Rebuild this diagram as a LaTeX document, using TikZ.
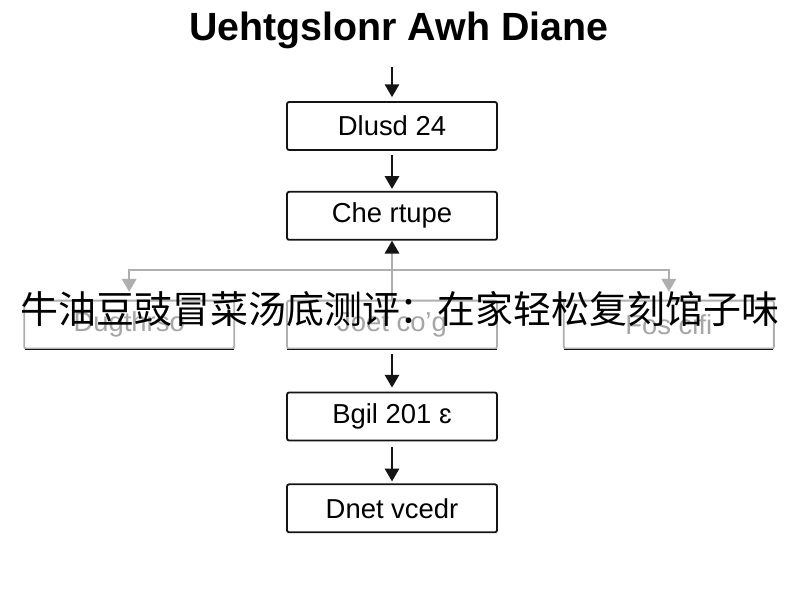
\documentclass[tikz,border=0pt]{standalone}
\usepackage{fontspec}
\setmainfont{Liberation Sans}
\newfontfamily\cjk{Noto Sans CJK SC}
\usepackage{tikz}
\usetikzlibrary{arrows.meta,positioning}
\definecolor{boxline}{RGB}{20,20,20}
\definecolor{faded}{RGB}{175,175,175}
\definecolor{fadedtext}{RGB}{165,165,165}

\begin{document}
\begin{tikzpicture}[
  font=\fontsize{19.5}{23}\selectfont,
  box/.style={draw=boxline,line width=1.3pt,rounded corners=1.5pt,minimum height=1.2cm,minimum width=5.25cm,inner sep=0pt,align=center},
  gbox/.style={draw=faded,line width=1.3pt,rounded corners=1.5pt,minimum height=1.2cm,minimum width=5.25cm,inner sep=0pt,text=fadedtext,align=center},
  arr/.style={-{Triangle[length=3.2mm,width=3.6mm]},line width=1.3pt,boxline},
  garr/.style={-{Triangle[length=3.2mm,width=3.6mm]},line width=1.3pt,faded},
]
\useasboundingbox (0,0) rectangle (20,-15);
\fill[white] (0,0) rectangle (20,-15);
\node[font=\fontsize{28}{32}\selectfont\bfseries] (ttl) at (9.97,-0.75) {Uehtgslonr Awh Diane};
\node[box] (dlusd) at (9.8,-3.15) {Dlusd 24};
\node[box,below=1.0cm of dlusd] (che) {Che rtupe};
\node[gbox,below=1.475cm of che] (joet) {Joet co'g};
\node[gbox,left=1.275cm of joet] (dugt) {Dugthrso};
\node[gbox,right=1.625cm of joet] (fos) {Fos cifi};
\node[box,below=1.05cm of joet] (bgil) {Bgil 201 ɛ};
\node[box,below=1.05cm of bgil] (dnet) {Dnet vcedr};
% darker bottom edges of the faded row
\foreach \n in {dugt,joet,fos}
  \draw[boxline,line width=1.3pt] ([xshift=1pt]\n.south west) -- ([xshift=-1pt]\n.south east);
% main flow
\coordinate[above=0.85cm of dlusd.north] (entry);
\draw[arr,shorten >=0.1cm] (entry) -- (dlusd.north);
\draw[arr,shorten <=0.1cm,shorten >=0.05cm] (dlusd) -- (che);
\draw[arr,shorten <=0.1cm,shorten >=0.1cm] (joet) -- (bgil);
\draw[arr,shorten <=0.15cm,shorten >=0.05cm] (bgil) -- (dnet);
% faded branch
\coordinate[above=0.75cm of joet.north] (bar);
\draw[faded,line width=1.3pt,-{Triangle[length=3.2mm,width=3.6mm,boxline]}] (joet.north) -- (che.south);
\draw[garr,shorten >=0.2cm] (bar) -| (dugt.north);
\draw[garr,shorten >=0.2cm] (bar) -| (fos.north);
% caption over the picture
\node[font=\cjk\fontsize{27}{30}\selectfont,inner sep=0pt] (cap) at (10,-7.72) {牛油豆豉冒菜汤底测评：在家轻松复刻馆子味};
\end{tikzpicture}
\end{document}
